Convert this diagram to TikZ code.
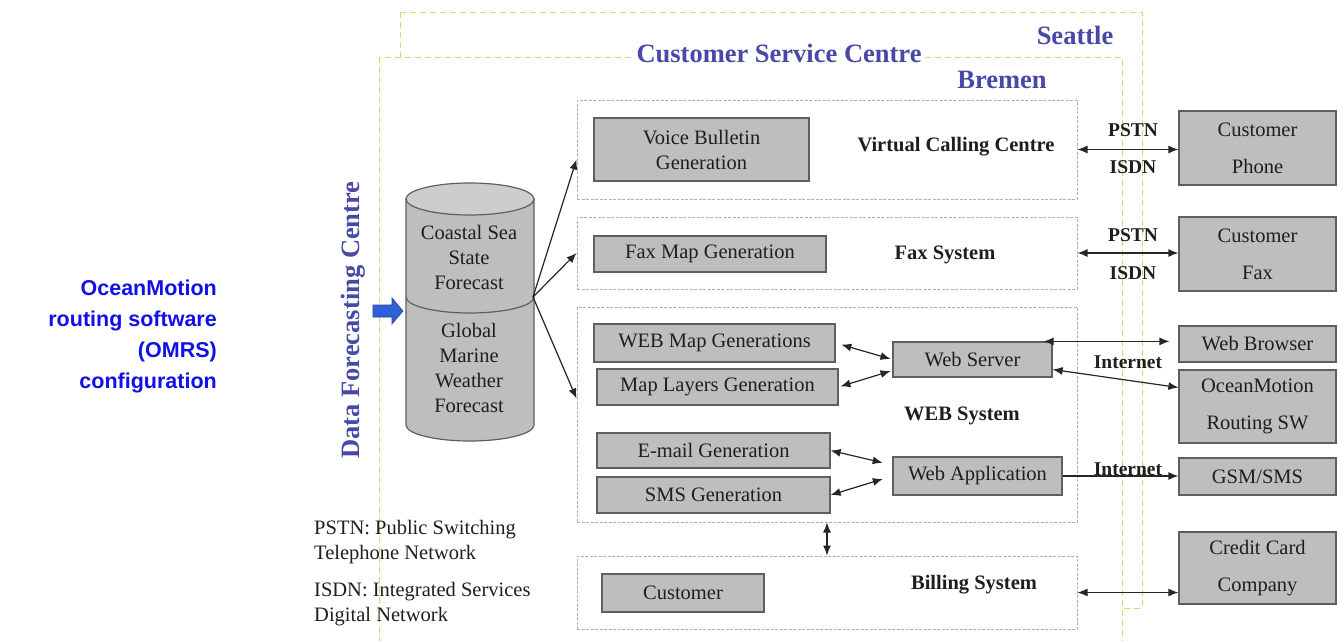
\documentclass[tikz,border=0pt]{standalone}
\usepackage{fontspec}
\setmainfont{Liberation Serif}
\newfontfamily\arialfont{Liberation Sans}
\usetikzlibrary{arrows.meta}
\definecolor{boxgray}{RGB}{190,190,190}
\definecolor{cyltop}{RGB}{205,205,205}
\definecolor{boxedge}{RGB}{95,95,95}
\definecolor{sysedge}{RGB}{170,176,200}
\definecolor{frameyellow}{RGB}{228,210,110}
\definecolor{slateblue}{RGB}{72,72,168}
\definecolor{titleblue}{RGB}{16,16,232}
\definecolor{arrowblue}{RGB}{48,96,216}
\definecolor{txt}{RGB}{30,30,30}
\tikzset{
  gbox/.style={draw=boxedge, fill=boxgray, line width=1.2pt, inner sep=0pt, align=center,
    font=\fontsize{20.5}{25}\selectfont, text=txt},
  sysbox/.style={draw=sysedge, dash pattern=on 3pt off 1.5pt, line width=1pt, fill=white, inner sep=0pt},
  framebox/.style={draw=frameyellow, dash pattern=on 6pt off 4pt, line width=1pt, fill=white},
  lbl/.style={font=\bfseries\fontsize{20.5}{24}\selectfont, text=txt, inner sep=1pt},
  netlbl/.style={font=\bfseries\fontsize{19.5}{24}\selectfont, text=txt, inner sep=1pt},
  sitelbl/.style={font=\bfseries\fontsize{26.5}{30}\selectfont, text=slateblue, inner sep=2pt},
  legend/.style={font=\fontsize{20.5}{25}\selectfont, text=txt, align=left, anchor=west, inner sep=0pt},
  conn/.style={draw=black!85, line width=1.2pt},
  dbl/.style={conn, {Latex[length=10pt,width=8pt]}-{Latex[length=10pt,width=8pt]}},
  sgl/.style={conn, -{Latex[length=10pt,width=8pt]}},
}
\begin{document}
\begin{tikzpicture}[x=1pt,y=-1pt]
\useasboundingbox (0,0) rectangle (1338,640);
\clip (0,0) rectangle (1338,640);

% left title
\node[anchor=east, align=right, font=\arialfont\bfseries\fontsize{21.5}{31}\selectfont,
  text=titleblue, inner sep=0pt] (title) at (217,336) {OceanMotion\\routing software\\(OMRS)\\configuration};

% site frames
\draw[framebox] (400,12) rectangle (1142,608);
\node[sitelbl] (seattle) at (1075,35) {Seattle};
\draw[framebox] (379,57) rectangle (1122,700);
\node[sitelbl] (bremen) at (1002,80) {Bremen};
\node[sitelbl, fill=white] (csc) at (779,53) {Customer Service Centre};
\node[sitelbl, rotate=90] (dfc) at (353,320) {Data Forecasting Centre};

% blue input arrow
\draw[fill=arrowblue, draw=arrowblue!70!black, line width=0.6pt]
  (373,305) -- (392,305) -- (392,298) -- (403,311) -- (392,324) -- (392,317) -- (373,317) -- cycle;

% database cylinder
\draw[fill=boxgray, draw=boxedge, line width=1.2pt]
  (406,199) -- (406,425) .. controls (406,433.8) and (434.7,441) .. (470,441)
  .. controls (505.3,441) and (534,433.8) .. (534,425) -- (534,199) -- cycle;
\draw[fill=cyltop, draw=boxedge, line width=1.2pt] (470,199) ellipse [x radius=64pt, y radius=16pt];
\draw[draw=boxedge, line width=1.2pt]
  (406,297) .. controls (406,305.8) and (434.7,313) .. (470,313)
  .. controls (505.3,313) and (534,305.8) .. (534,297);
\node[align=center, font=\fontsize{20.5}{25}\selectfont, text=txt] (coastal) at (469,257) {Coastal Sea\\State\\Forecast};
\node[align=center, font=\fontsize{20.5}{25}\selectfont, text=txt] (global) at (469,368) {Global\\Marine\\Weather\\Forecast};
\coordinate (cylout) at (533,297);

% system boxes
\node[sysbox, minimum width=500pt, minimum height=99pt] (vcc) at (827,149.5) {};
\node[sysbox, minimum width=500pt, minimum height=72pt] (faxsys) at (827,253) {};
\node[sysbox, minimum width=500pt, minimum height=215pt] (websys) at (827,414.5) {};
\node[sysbox, minimum width=500pt, minimum height=73pt] (billsys) at (827,592.5) {};

\node[lbl] (lvcc) at (956,147) {Virtual Calling Centre};
\node[lbl] (lfax) at (945,255) {Fax System};
\node[lbl] (lweb) at (962,416) {WEB System};
\node[lbl] (lbill) at (974,585) {Billing System};

% inner boxes
\node[gbox, minimum width=215pt, minimum height=63pt] (vb) at (701.5,149.5) {Voice Bulletin\\Generation};
\node[gbox, minimum width=232pt, minimum height=36pt] (fm) at (710,254) {Fax Map Generation};
\node[gbox, minimum width=241pt, minimum height=38pt] (wm) at (714.5,343) {WEB Map Generations};
\node[gbox, minimum width=241pt, minimum height=36pt] (ml) at (717.5,387) {Map Layers Generation};
\node[gbox, minimum width=233pt, minimum height=35pt] (em) at (713.5,450.5) {E-mail Generation};
\node[gbox, minimum width=233pt, minimum height=36pt] (sms) at (713.5,495) {SMS Generation};
\node[gbox, minimum width=162pt, minimum height=38pt] (cust) at (683,593) {Customer};
\node[gbox, minimum width=159pt, minimum height=35pt] (ws) at (972.5,359.5) {Web Server};
\node[gbox, minimum width=169pt, minimum height=38pt] (wa) at (977.5,476) {Web Application};

% external boxes
\node[gbox, minimum width=157pt, minimum height=74pt] (phone) at (1257.5,148) {Customer\\[12pt]Phone};
\node[gbox, minimum width=157pt, minimum height=74pt] (cfax) at (1257.5,254) {Customer\\[12pt]Fax};
\node[gbox, minimum width=157pt, minimum height=36pt] (browser) at (1257.5,344) {Web Browser};
\node[gbox, minimum width=157pt, minimum height=73pt] (oms) at (1257.5,406.5) {OceanMotion\\[12pt]Routing SW};
\node[gbox, minimum width=157pt, minimum height=37pt] (gsm) at (1257.5,476.5) {GSM/SMS};
\node[gbox, minimum width=157pt, minimum height=72pt] (cc) at (1257.5,568) {Credit Card\\[12pt]Company};

% network labels
\node[netlbl] (pstn1) at (1133,130) {PSTN};
\node[netlbl] (isdn1) at (1133,167) {ISDN};
\node[netlbl] (pstn2) at (1133,235) {PSTN};
\node[netlbl] (isdn2) at (1133,273) {ISDN};
\node[netlbl] (inet1) at (1128,362) {Internet};
\node[netlbl] (inet2) at (1128,469) {Internet};

% legend
\node[legend] (leg1) at (314,542) {PSTN: Public Switching\\Telephone Network};
\node[legend] (leg2) at (314,604) {ISDN: Integrated Services\\Digital Network};

% connectors
\draw[sgl] (cylout) -- ([yshift=-10pt]vcc.west);
\draw[sgl] (cylout) -- (faxsys.west);
\draw[sgl] (cylout) -- ([yshift=16pt]websys.west);
\draw[dbl] (vcc.east) -- (vcc.east -| phone.west);
\draw[dbl] (faxsys.east) -- (faxsys.east -| cfax.west);
\draw[dbl] ([xshift=-9pt]ws.north east) -- ([xshift=-9pt]ws.north east -| browser.west);
\draw[dbl] ([yshift=-10pt]ws.east) -- ([yshift=19pt]oms.west);
\draw[sgl] (wa.east) -- (wa.east -| gsm.west);
\draw[dbl] (billsys.east) -- (billsys.east -| cc.west);
\draw[dbl, shorten <=6pt, shorten >=2pt] (wm.east) -- (ws.west);
\draw[dbl, shorten <=2pt, shorten >=2pt] (ml.east) -- ([yshift=-11pt]ws.west);
\draw[dbl, shorten >=10pt] (em.east) -- ([yshift=11pt]wa.west);
\draw[dbl, shorten >=10pt] (sms.east) -- (wa.west);
\draw[dbl] (websys.south) -- (billsys.north);
\end{tikzpicture}
\end{document}
